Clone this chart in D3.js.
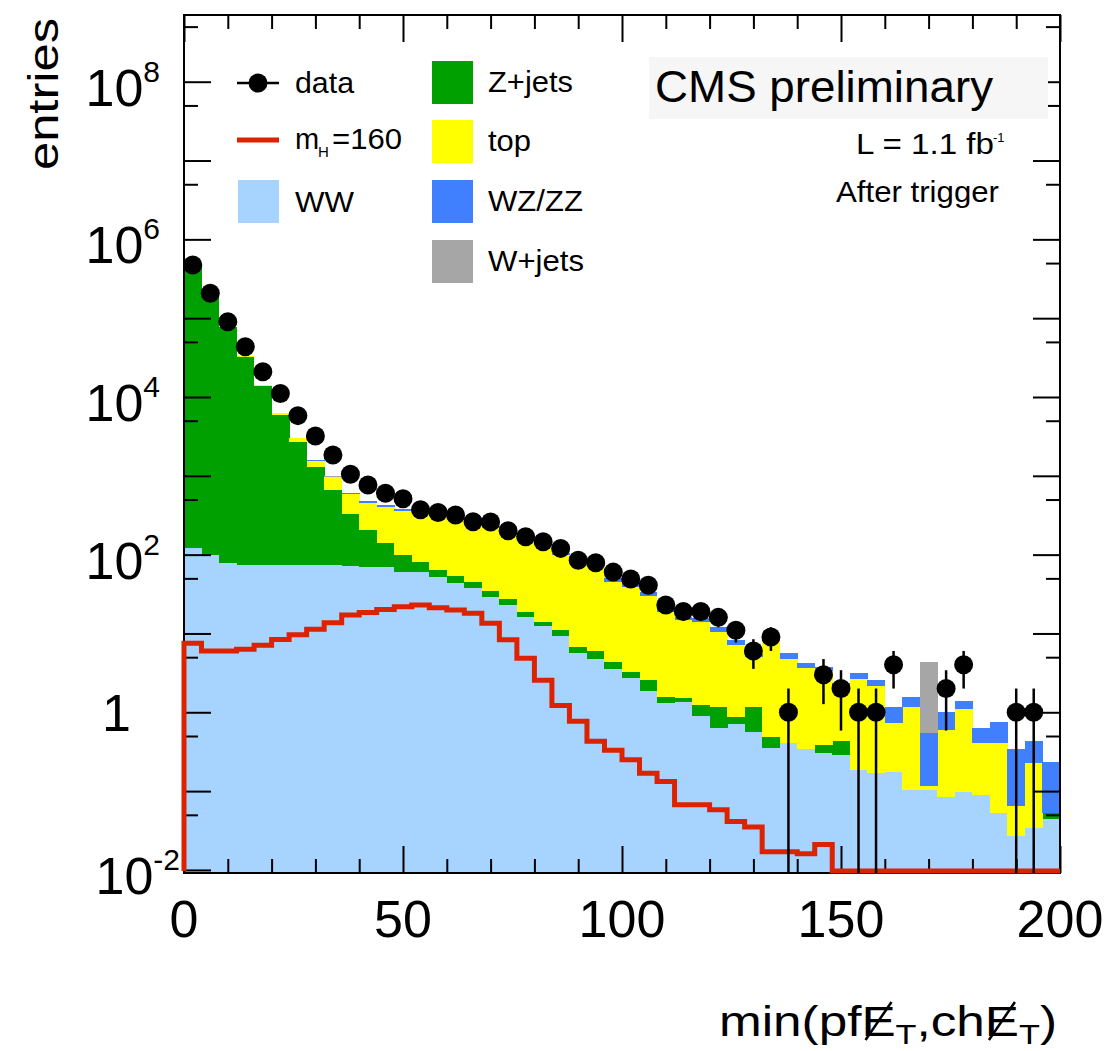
<!DOCTYPE html>
<html>
<head>
<meta charset="utf-8">
<script src="https://d3js.org/d3.v7.min.js"></script>
<style>
  body { margin: 0; background: #fff; }
  svg text { font-family: "Liberation Sans", Arial, Helvetica, sans-serif; fill: #000; }
</style>
</head>
<body>
<svg id="chart" width="1104" height="1051"></svg>
<script>
// Histogram binning: 50 bins of 4 GeV between 0 and 200
const binWidth = 4;
const binLow = d3.range(0, 200, binWidth);

// Stacked backgrounds (per-bin contributions, bottom to top)
const wwValues = [120, 99, 79, 74, 74, 74, 74, 73, 73, 72, 70, 70, 61, 61, 51.5, 43.3, 37.4, 29.3, 23, 16,
  12.5, 9.3, 5.7, 4.7, 3.5, 2.7, 1.88, 1.32, 1.36, 0.9, 0.63, 0.72, 0.57, 0.35, 0.405, 0.34, 0.30, 0.29, 0.185, 0.168,
  0.176, 0.103, 0.103, 0.085, 0.096, 0.089, 0.052, 0.027, 0.034, 0.044];
const zjetsValues = [460000, 200000, 77900, 32300, 13700, 5830, 2590, 1210, 587, 260, 136, 72, 38, 20.7, 12.3, 10.3, 8.0, 5.6, 4.4, 2.9,
  1.6, 1.8, 1.1, 1.35, 0.9, 0.57, 0.69, 0.26, 0.14, 0.34, 0.53, 0.16, 0.61, 0.14, 0, 0, 0.085, 0.146, 0, 0,
  0, 0, 0, 0, 0, 0, 0, 0, 0, 0.008];
const topValues = [150, 250, 320, 380, 400, 400, 330, 280, 296, 254, 250, 256, 262, 254, 244, 228, 198, 182, 160, 143,
  126, 87.6, 73.6, 65.4, 41, 36.1, 27.1, 17.1, 13.3, 12.8, 9.3, 6.2, 3.8, 7.6, 4.3, 3.26, 3.0, 1.54, 2.49, 1.98,
  0.55, 1.08, 0.013, 0.515, 0.99, 0.316, 0.358, 0.037, 0.192, 0];
const wzzzValues = [20, 15, 12, 10, 10, 10, 10, 10, 17, 23, 27, 25, 15, 21, 20, 18, 16, 14, 12, 10,
  9, 6.3, 5.1, 4.6, 5.2, 4.9, 4.2, 2.3, 1.5, 1.7, 1.7, 1.2, 0.5, 1.0, 0.9, 0.58, 0.39, 0.38, 0.46, 0.42,
  0.455, 0.4, 0.424, 0.42, 0.31, 0.222, 0.337, 0.275, 0.206, 0.184];
const wjetsValues = [0, 0, 0, 0, 0, 0, 20, 30, 10, 0, 0, 0, 0, 0, 0, 0, 0, 0, 0, 0,
  0, 0, 0, 0, 0, 0, 0, 0, 0, 0, 0, 0, 0, 0, 0, 0, 0, 0, 0, 0,
  0, 0, 3.84, 0, 0, 0, 0, 0, 0, 0];

// Higgs signal (mH = 160), overlaid, not stacked
const higgsValues = [7.5, 6.0, 6.0, 6.3, 7.1, 8.4, 9.6, 11.3, 13.7, 17.1, 18.4, 20.2, 21.8, 23.0, 21.2, 19.8, 18.1, 13.5, 8.3, 4.84,
  2.55, 1.22, 0.77, 0.43, 0.33, 0.25, 0.168, 0.132, 0.067, 0.067, 0.058, 0.041, 0.035, 0.017, 0.017, 0.016, 0.021, 0, 0, 0,
  0, 0, 0, 0, 0, 0, 0, 0, 0, 0];

// Observed events
const dataCounts = [472000, 207000, 90000, 43400, 20900, 11100, 5800, 3200, 1840, 1047, 764, 600, 511, 372, 343, 318, 262, 260, 201, 169,
  146, 120, 85, 79, 60, 49, 41, 23, 19, 19, 16, 11, 6, 9, 1, 0, 3, 2, 1, 1,
  4, 0, 0, 2, 4, 0, 0, 1, 1, 0];

const stackKeys = ['WW', 'Zjets', 'top', 'WZZZ', 'Wjets'];
const stackColors = { WW: '#a6d4ff', Zjets: '#00a000', top: '#ffff00', WZZZ: '#4080ff', Wjets: '#a6a6a6' };
const higgsColor = '#dd2200';

const xTickLabels = [0, 50, 100, 150, 200];
const yLabelExponents = [-2, 0, 2, 4, 6, 8];

// Frame and scales
const frame = { left: 184, right: 1060, top: 15, bottom: 873 };
const x = d3.scaleLinear().domain([0, 200]).range([frame.left, frame.right]);
const y = d3.scaleLog().domain([0.00914, 7.02e8]).range([frame.bottom, frame.top]);
const yPos = v => v > 0 ? y(v) : frame.bottom + 4;

const svg = d3.select('#chart');

svg.append('defs').append('clipPath').attr('id', 'frameClip')
  .append('rect')
  .attr('x', frame.left).attr('y', frame.top)
  .attr('width', frame.right - frame.left).attr('height', frame.bottom - frame.top);

// Stacked histograms
const rows = binLow.map((lo, i) => ({
  lo: lo,
  WW: wwValues[i], Zjets: zjetsValues[i], top: topValues[i], WZZZ: wzzzValues[i], Wjets: wjetsValues[i]
}));
const series = d3.stack().keys(stackKeys)(rows);

const plot = svg.append('g').attr('clip-path', 'url(#frameClip)');
series.forEach(s => {
  plot.append('g')
    .attr('fill', stackColors[s.key])
    .attr('shape-rendering', 'crispEdges')
    .selectAll('rect')
    .data(s.filter(d => d[1] > d[0]))
    .join('rect')
    .attr('x', d => x(d.data.lo))
    .attr('width', x(binWidth) - x(0) + 0.4)
    .attr('y', d => y(d[1]))
    .attr('height', d => Math.max(0, yPos(d[0]) - y(d[1])));
});

// Axis ticks (inside, on all four sides)
function addTicks(axisFn, scale, values, size, transform) {
  svg.append('g')
    .attr('transform', transform)
    .call(axisFn(scale).tickValues(values).tickSize(size).tickFormat(''))
    .call(g => g.select('.domain').remove())
    .selectAll('line')
    .attr('stroke', '#000')
    .attr('stroke-width', 2);
}
const xMajor = d3.range(0, 201, 50);
const xMinor = d3.range(0, 201, 10).filter(v => v % 50 !== 0);
const yMajor = d3.range(-2, 9).map(e => Math.pow(10, e));
const yMinor = d3.range(-2, 9).map(e => 5 * Math.pow(10, e));

addTicks(d3.axisBottom, x, xMajor, -27, `translate(0,${frame.bottom})`);
addTicks(d3.axisBottom, x, xMinor, -14, `translate(0,${frame.bottom})`);
addTicks(d3.axisTop, x, xMajor, -27, `translate(0,${frame.top})`);
addTicks(d3.axisTop, x, xMinor, -14, `translate(0,${frame.top})`);
addTicks(d3.axisLeft, y, yMajor, -27, `translate(${frame.left},0)`);
addTicks(d3.axisLeft, y, yMinor, -14, `translate(${frame.left},0)`);
addTicks(d3.axisRight, y, yMajor, -27, `translate(${frame.right},0)`);
addTicks(d3.axisRight, y, yMinor, -14, `translate(${frame.right},0)`);

svg.append('rect')
  .attr('x', frame.left).attr('y', frame.top)
  .attr('width', frame.right - frame.left).attr('height', frame.bottom - frame.top)
  .attr('fill', 'none').attr('stroke', '#000').attr('stroke-width', 2);

// Higgs signal step line
const higgsPoints = [[0, 0]]
  .concat(binLow.map((lo, i) => [lo, higgsValues[i]]))
  .concat([[200, higgsValues[higgsValues.length - 1]]]);
const higgsLine = d3.line()
  .x(d => x(d[0]))
  .y(d => d[1] > 0 ? y(d[1]) : frame.bottom - 2)
  .curve(d3.curveStepAfter);
svg.append('path')
  .attr('d', higgsLine(higgsPoints))
  .attr('fill', 'none')
  .attr('stroke', higgsColor)
  .attr('stroke-width', 5)
  .attr('stroke-linejoin', 'miter');

// Data points with sqrt(N) error bars
const points = binLow
  .map((lo, i) => ({ xc: lo + binWidth / 2, n: dataCounts[i] }))
  .filter(d => d.n > 0);

const dataG = svg.append('g').attr('clip-path', 'url(#frameClip)');
dataG.selectAll('line')
  .data(points)
  .join('line')
  .attr('x1', d => x(d.xc)).attr('x2', d => x(d.xc))
  .attr('y1', d => y(d.n + Math.sqrt(d.n)))
  .attr('y2', d => d.n - Math.sqrt(d.n) > 0 ? y(d.n - Math.sqrt(d.n)) : frame.bottom)
  .attr('stroke', '#000')
  .attr('stroke-width', 2.5);
dataG.selectAll('circle')
  .data(points)
  .join('circle')
  .attr('cx', d => x(d.xc))
  .attr('cy', d => y(d.n))
  .attr('r', 9.5)
  .attr('fill', '#000');

// Axis labels
svg.append('g')
  .selectAll('text')
  .data(xTickLabels)
  .join('text')
  .attr('x', d => x(d))
  .attr('y', 937)
  .attr('text-anchor', 'middle')
  .attr('font-size', 52)
  .text(d => d);

yLabelExponents.forEach(e => {
  const t = svg.append('text')
    .attr('text-anchor', 'end')
    .attr('font-size', 52);
  if (e === 0) {
    t.attr('x', 131).attr('y', y(1) + 19).text('1');
  } else {
    t.attr('x', e > 0 ? 160 : 180).attr('y', y(Math.pow(10, e)) + 24);
    t.append('tspan').text('10');
    t.append('tspan').attr('font-size', 30).attr('dy', -24).text(e);
  }
});

svg.append('text')
  .attr('transform', 'translate(58,18) rotate(-90)')
  .attr('text-anchor', 'end')
  .attr('font-size', 43)
  .attr('textLength', 152)
  .attr('lengthAdjust', 'spacingAndGlyphs')
  .text('entries');

// x axis title with slashed E
const titleBase = 1036;
const xTitle = svg.append('text')
  .attr('x', 1057)
  .attr('y', titleBase)
  .attr('text-anchor', 'end')
  .attr('font-size', 42)
  .attr('textLength', 338)
  .attr('lengthAdjust', 'spacingAndGlyphs');
xTitle.append('tspan').text('min(pfE');
xTitle.append('tspan').attr('font-size', 28).attr('dy', 8).text('T');
xTitle.append('tspan').attr('dy', -8).text(',chE');
xTitle.append('tspan').attr('font-size', 28).attr('dy', 8).text('T');
xTitle.append('tspan').attr('dy', -8).text(')');
const titleNode = xTitle.node();
[6, 11].forEach(idx => {
  const b = titleNode.getExtentOfChar(idx);
  svg.append('line')
    .attr('x1', b.x + b.width * 0.12).attr('y1', titleBase + 4)
    .attr('x2', b.x + b.width * 0.88).attr('y2', titleBase - 34)
    .attr('stroke', '#000').attr('stroke-width', 2.5);
});

// Header texts
svg.append('rect')
  .attr('x', 649).attr('y', 57).attr('width', 399).attr('height', 62)
  .attr('fill', '#f6f6f6');
svg.append('text')
  .attr('x', 655).attr('y', 102)
  .attr('font-size', 44)
  .attr('textLength', 338)
  .attr('lengthAdjust', 'spacingAndGlyphs')
  .text('CMS preliminary');
svg.append('text')
  .attr('x', 856).attr('y', 154)
  .attr('font-size', 29)
  .attr('textLength', 138)
  .attr('lengthAdjust', 'spacingAndGlyphs')
  .text('L = 1.1 fb');
svg.append('text')
  .attr('x', 993).attr('y', 142)
  .attr('font-size', 13)
  .text('-1');
svg.append('text')
  .attr('x', 836).attr('y', 202)
  .attr('font-size', 30)
  .attr('textLength', 163)
  .attr('lengthAdjust', 'spacingAndGlyphs')
  .text('After trigger');

// Legend
const legend = svg.append('g');
function legendText(label, lx, ly, len) {
  legend.append('text')
    .attr('x', lx).attr('y', ly)
    .attr('font-size', 29)
    .attr('textLength', len)
    .attr('lengthAdjust', 'spacingAndGlyphs')
    .text(label);
}
// data
legend.append('line').attr('x1', 237).attr('x2', 279).attr('y1', 83).attr('y2', 83)
  .attr('stroke', '#000').attr('stroke-width', 2.5);
legend.append('circle').attr('cx', 258).attr('cy', 83).attr('r', 9.5).attr('fill', '#000');
legendText('data', 295, 93, 59);
// signal
legend.append('line').attr('x1', 237).attr('x2', 279).attr('y1', 140).attr('y2', 140)
  .attr('stroke', higgsColor).attr('stroke-width', 5);
legend.append('text').attr('x', 295).attr('y', 149).attr('font-size', 29).text('m');
legend.append('text').attr('x', 318).attr('y', 157).attr('font-size', 15).text('H');
legendText('=160', 332, 149, 70);
// WW
legend.append('rect').attr('x', 238).attr('y', 180).attr('width', 41).attr('height', 43)
  .attr('fill', stackColors.WW);
legendText('WW', 295, 212, 59);

const rightEntries = [
  { key: 'Zjets', label: 'Z+jets', top: 61, len: 85 },
  { key: 'top', label: 'top', top: 120, len: 43 },
  { key: 'WZZZ', label: 'WZ/ZZ', top: 180, len: 95 },
  { key: 'Wjets', label: 'W+jets', top: 240, len: 96 }
];
rightEntries.forEach(e => {
  legend.append('rect').attr('x', 432).attr('y', e.top).attr('width', 41).attr('height', 43)
    .attr('fill', stackColors[e.key]);
  legendText(e.label, 488, e.top + 31, e.len);
});
</script>
</body>
</html>
